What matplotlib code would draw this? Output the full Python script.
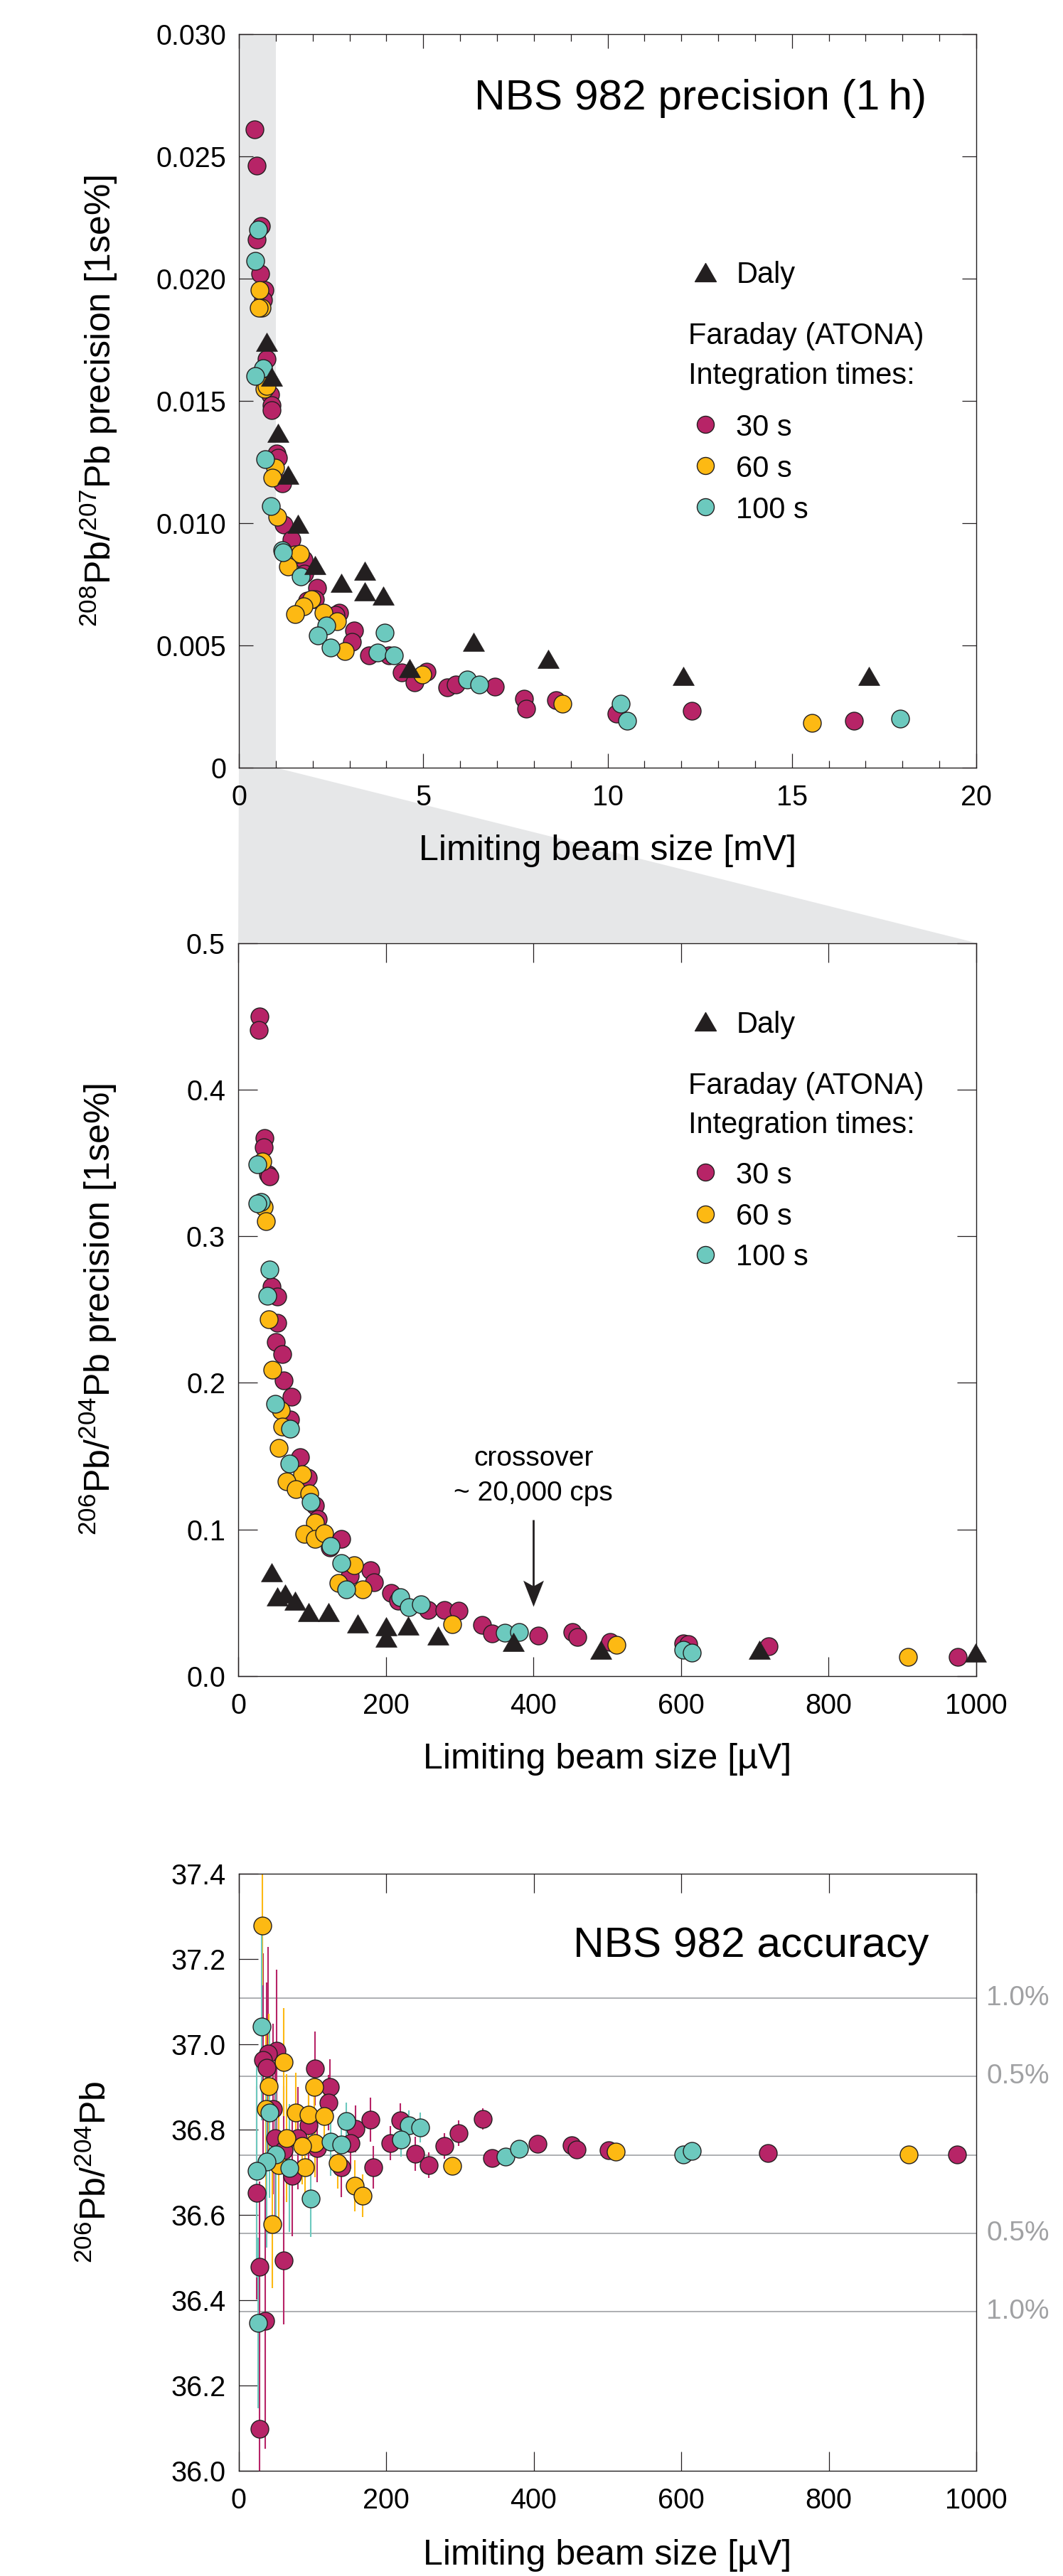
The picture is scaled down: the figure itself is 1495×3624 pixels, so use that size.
import numpy as np
import matplotlib
matplotlib.use('Agg')
import matplotlib.pyplot as plt
from matplotlib.patches import Polygon
from matplotlib.path import Path

plt.rcParams['font.family'] = ['Liberation Sans', 'DejaVu Sans']
plt.rcParams['mathtext.fontset'] = 'custom'
plt.rcParams['mathtext.rm'] = 'Liberation Sans'
plt.rcParams['mathtext.it'] = 'Liberation Sans:italic'
plt.rcParams['mathtext.bf'] = 'Liberation Sans:bold'

# ---------------- colours ----------------
C30 = '#B72467'
C60 = '#FDB913'
C100 = '#6CC9BE'
CDALY = '#231F20'
EDGE = '#231F20'
BAND = '#E6E7E8'

# ---------------- panel 1 : 208Pb/207Pb precision vs beam size [mV] ----------------
p1_30_x = [0.43, 0.476, 0.59, 0.48, 0.58, 0.69, 0.66, 0.752, 0.85, 0.88, 0.89, 1.03, 1.06, 1.17, 1.22,
           1.43, 1.75, 1.78, 2.13, 2.07, 1.85, 2.71, 2.62, 3.12, 3.07, 3.52, 4.06, 4.42, 4.77, 5.10,
           5.66, 5.88, 6.94, 7.73, 7.79, 8.60, 10.25, 12.28, 16.69]
p1_30_y = [0.02611, 0.02461, 0.02214, 0.02161, 0.0202, 0.01953, 0.01914, 0.01672, 0.01526, 0.01483,
           0.01463, 0.01284, 0.01267, 0.01163, 0.00993, 0.00932, 0.00853, 0.00795, 0.00736, 0.0069,
           0.00683, 0.00635, 0.00625, 0.00562, 0.00514, 0.0046, 0.0046, 0.0039, 0.00349, 0.00392,
           0.00329, 0.00341, 0.00331, 0.00281, 0.0024, 0.00276, 0.0022, 0.00233, 0.00191]
p1_60_x = [0.56, 0.62, 0.54, 0.69, 0.75, 0.98, 0.90, 1.04, 1.52, 1.65, 1.33, 1.97, 1.76, 1.52, 2.30,
           2.66, 2.87, 4.98, 8.78, 15.55]
p1_60_y = [0.01954, 0.01882, 0.0188, 0.0155, 0.0156, 0.01226, 0.01187, 0.01025, 0.00872, 0.00874,
           0.00822, 0.0069, 0.00661, 0.00628, 0.00635, 0.00599, 0.00477, 0.00381, 0.00262, 0.00182]
p1_100_x = [0.53, 0.44, 0.656, 0.45, 0.71, 0.86, 1.18, 1.20, 1.67, 2.38, 2.15, 3.95, 2.49, 3.77, 4.21,
            6.20, 6.52, 10.35, 10.53, 17.94]
p1_100_y = [0.02201, 0.02072, 0.01633, 0.01601, 0.01262, 0.01071, 0.0089, 0.0088, 0.00782, 0.00581,
            0.00541, 0.00552, 0.00492, 0.0047, 0.0046, 0.0036, 0.00341, 0.00262, 0.00191, 0.00201]
p1_daly_x = [0.752, 0.89, 1.07, 1.33, 1.61, 2.07, 2.78, 3.42, 3.41, 3.92, 4.62, 6.36, 8.38, 12.05, 17.09]
p1_daly_y = [0.0174, 0.01599, 0.01368, 0.01197, 0.00996, 0.00828, 0.00756, 0.00806, 0.00722, 0.00703,
             0.00407, 0.00514, 0.00444, 0.00375, 0.00375]

# ---------------- panel 2 : 206Pb/204Pb precision vs beam size [uV] ----------------
p2_30_x = [29.1, 28.4, 35.9, 34.4, 40.1, 42, 45, 53, 53, 50.8, 60, 61.7, 72.3, 70.6, 83.5, 94.7, 104.3,
           108.2, 139.7, 124.6, 178.9, 151, 184, 207, 216.8, 256.9, 279.4, 298.6, 330.7, 343.6, 406.3,
           452.8, 459.2, 503.6, 602.9, 610, 718.5, 974.6]
p2_30_y = [0.4497, 0.4404, 0.3668, 0.3605, 0.3422, 0.341, 0.2658, 0.259, 0.2408, 0.2279, 0.2198, 0.2017,
           0.1907, 0.1748, 0.1492, 0.1352, 0.1164, 0.1069, 0.0935, 0.0876, 0.072, 0.0685, 0.0641, 0.0567,
           0.0515, 0.0451, 0.0451, 0.0446, 0.0349, 0.0289, 0.0278, 0.03, 0.0268, 0.0233, 0.0222, 0.022,
           0.0203, 0.0129]
p2_60_x = [33.0, 34.4, 37.6, 41.7, 46.6, 57.8, 59.4, 54.6, 86.7, 65.8, 78, 96.3, 103.8, 89.3, 103.8,
           116.6, 157.3, 135.5, 168.6, 290, 512.3, 907.7]
p2_60_y = [0.3508, 0.32, 0.3102, 0.2434, 0.2087, 0.1812, 0.1699, 0.1554, 0.1376, 0.1328, 0.1274, 0.1245,
           0.1048, 0.097, 0.0935, 0.0975, 0.0754, 0.0636, 0.0591, 0.0354, 0.0214, 0.0129]
p2_100_x = [25.7, 31.1, 26.3, 42.7, 39.5, 50.4, 70.6, 69.7, 98, 125.2, 139.7, 146.1, 220, 231.2, 247.3,
            361.3, 380.5, 602.9, 615]
p2_100_y = [0.349, 0.3233, 0.3223, 0.2773, 0.2595, 0.1856, 0.1689, 0.1447, 0.119, 0.0887, 0.0769, 0.0591,
            0.0539, 0.0471, 0.049, 0.0297, 0.03, 0.0177, 0.0159]
p2_daly_x = [45, 53, 63.6, 77, 95.4, 122, 162, 200.7, 200.7, 230.5, 270.7, 373.1, 491.3, 706, 999]
p2_daly_y = [0.0709, 0.0544, 0.0564, 0.0512, 0.0434, 0.0438, 0.0359, 0.0338, 0.0262, 0.0343, 0.0278,
             0.0233, 0.0177, 0.0177, 0.0159]
crossover_x = 400
crossover_arrow = (0.1067, 0.0475)   # arrow start / tip (precision units)

# ---------------- panel 3 : 206Pb/204Pb accuracy ----------------
p3_30_x = [51.4, 40.2, 33.7, 37.9, 103.4, 124.3, 122.4, 46.5, 94.7, 158.3, 179.2, 219, 331.4, 298, 279.4,
           205.5, 239.2, 257.5, 183, 343.6, 405.6, 151.7, 106.9, 49.8, 80.3, 61, 72.3, 139.7, 25, 28.2,
           61, 35.9, 28.9, 451.5, 458, 502, 718, 974]
p3_30_y = [36.985, 36.977, 36.963, 36.945, 36.943, 36.9, 36.863, 36.848, 36.81, 36.8005, 36.823, 36.821,
           36.824, 36.792, 36.762, 36.768, 36.743, 36.7155, 36.7117, 36.733, 36.767, 36.768, 36.757,
           36.7795, 36.78, 36.7517, 36.6905, 36.7117, 36.6517, 36.478, 36.4933, 36.3517, 36.099,
           36.7635, 36.753, 36.752, 36.7442, 36.742]
p3_30_e = [0.19, 0.25, 0.25, 0.2, 0.087, 0.065, 0.065, 0.2, 0.08, 0.055, 0.052, 0.04, 0.025, 0.03, 0.03,
           0.04, 0.04, 0.03, 0.05, 0.012, 0.012, 0.06, 0.08, 0.2, 0.12, 0.15, 0.14, 0.07, 0.25, 0.2, 0.15,
           0.3, 0.35, 0.01, 0.01, 0.01, 0.008, 0.006]
p3_60_x = [32.1, 61, 41.1, 103.1, 36.9, 78, 95.4, 115.9, 103.4, 86, 64.8, 54.6, 90.6, 134.9, 157.3, 168.6,
           46, 290, 511.3, 908]
p3_60_y = [37.277, 36.958, 36.901, 36.9, 36.848, 36.84, 36.834, 36.831, 36.768, 36.762, 36.7795, 36.7155,
           36.7117, 36.7212, 36.6683, 36.645, 36.578, 36.7145, 36.748, 36.742]
p3_60_e = [0.14, 0.126, 0.17, 0.06, 0.2, 0.093, 0.08, 0.07, 0.08, 0.09, 0.15, 0.15, 0.08, 0.06, 0.06, 0.05,
           0.15, 0.02, 0.01, 0.006]
p3_100_x = [31.1, 42.4, 146.1, 231.2, 246.3, 220.6, 362.2, 380.5, 125.2, 139.7, 50.4, 38.5, 24.8, 69.1,
            98, 26.3, 603, 614]
p3_100_y = [37.0405, 36.839, 36.8195, 36.81, 36.8045, 36.777, 36.736, 36.7545, 36.771, 36.7645, 36.7405,
            36.7238, 36.7033, 36.71, 36.638, 36.346, 36.7407, 36.75]
p3_100_e = [0.22, 0.2, 0.044, 0.035, 0.035, 0.04, 0.012, 0.012, 0.08, 0.06, 0.15, 0.2, 0.25, 0.15, 0.09,
            0.2, 0.008, 0.008]
p3_ref = 36.74
p3_dev = [-0.01, -0.005, 0.0, 0.005, 0.01]
p3_dev_labels = ['1.0%', '0.5%', '', '0.5%', '1.0%']

legend_labels = ['30 s', '60 s', '100 s']

# ---------------- figure ----------------
W, H = 1495, 3624
fig = plt.figure(figsize=(W / 100, H / 100), dpi=100)

def px_axes(l, r, t, b):
    return fig.add_axes([l / W, (H - b) / H, (r - l) / W, (b - t) / H])

ax1 = px_axes(336, 1373, 48, 1080)
ax2 = px_axes(335, 1373, 1326.5, 2358)
ax3 = px_axes(335.5, 1373, 2635.5, 3476)

TICK_FS = 28.5
LBL_FS = 36
LEG_FS = 30
TITLE_FS = 43.5

tri = Path([(-1, -0.866), (1, -0.866), (0, 0.866), (-1, -0.866)],
           [Path.MOVETO, Path.LINETO, Path.LINETO, Path.CLOSEPOLY])
# notched ("stealth") arrow head, tip at the origin, pointing down
head = Path([(0, 0), (-14.5, 37), (0, 29), (14.5, 37), (0, 0)],
            [Path.MOVETO, Path.LINETO, Path.LINETO, Path.LINETO, Path.CLOSEPOLY])
MS = 18
TMS = 21.5


def style(ax, length, right=True, minor_len=None):
    for s in ax.spines.values():
        s.set_linewidth(1.0)
        s.set_color(EDGE)
    ax.tick_params(which='major', direction='in', length=length, width=0.9, color=EDGE,
                   top=True, right=right, labelsize=TICK_FS)
    ax.tick_params(axis='y', which='major', pad=13)
    ax.tick_params(axis='x', which='major', pad=16.5)
    if minor_len is not None:
        ax.tick_params(which='minor', direction='in', length=minor_len, width=0.9, color=EDGE,
                       top=True, right=right, left=False)
    else:
        ax.minorticks_off()


def circles(ax, x, y, c, z):
    ax.plot(x, y, linestyle='none', marker='o', markersize=MS, markerfacecolor=c,
            markeredgecolor=EDGE, markeredgewidth=1.0, clip_on=False, zorder=z)


def triangles(ax, x, y, z=6):
    ax.plot(x, y, linestyle='none', marker=tri, markersize=TMS, markerfacecolor=CDALY,
            markeredgecolor=CDALY, markeredgewidth=0.5, clip_on=False, zorder=z)


def legend(ax, fx_marker, fx_text, fx_head, fy_daly, fy_far, fy_int, fy_c):
    ax.plot([fx_marker], [fy_daly], transform=ax.transAxes, linestyle='none', marker=tri,
            markersize=TMS, markerfacecolor=CDALY, markeredgecolor=CDALY, clip_on=False)
    ax.text(fx_text, fy_daly, 'Daly', transform=ax.transAxes, fontsize=LEG_FS,
            ha='left', va='center_baseline')
    ax.text(fx_head, fy_far, 'Faraday (ATONA)', transform=ax.transAxes, fontsize=LEG_FS,
            ha='left', va='baseline')
    ax.text(fx_head, fy_int, 'Integration times:', transform=ax.transAxes, fontsize=LEG_FS,
            ha='left', va='baseline')
    for fy, c, lab in zip(fy_c, [C30, C60, C100], legend_labels):
        ax.plot([fx_marker], [fy], transform=ax.transAxes, linestyle='none', marker='o',
                markersize=MS * 0.96, markerfacecolor=c, markeredgecolor=EDGE,
                markeredgewidth=1.0, clip_on=False)
        ax.text(fx_text, fy, lab, transform=ax.transAxes, fontsize=LEG_FS,
                ha='left', va='center_baseline')


# ---------- panel 1 ----------
ax1.set_xlim(0, 20)
ax1.set_ylim(0, 0.030)
ax1.axvspan(0, 1, color=BAND, zorder=0, lw=0)
circles(ax1, p1_30_x, p1_30_y, C30, 3)
circles(ax1, p1_60_x, p1_60_y, C60, 4)
circles(ax1, p1_100_x, p1_100_y, C100, 5)
triangles(ax1, p1_daly_x, p1_daly_y)
ax1.set_xticks([0, 5, 10, 15, 20])
ax1.set_xticklabels(['0', '5', '10', '15', '20'])
ax1.set_xticks(np.arange(0, 21, 1), minor=True)
ax1.set_yticks([0, 0.005, 0.010, 0.015, 0.020, 0.025, 0.030])
ax1.set_yticklabels(['0', '0.005', '0.010', '0.015', '0.020', '0.025', '0.030'])
style(ax1, 14.4, minor_len=7.2)
ax1.tick_params(axis='y', which='minor', left=False, right=False)
ax1.text(0.9325, 0.8971, 'NBS 982 precision (1\u2009h)', transform=ax1.transAxes,
         fontsize=TITLE_FS, ha='right', va='baseline')
legend(ax1, 0.633, 0.6742, 0.6093, 0.6756, 0.5775, 0.5235, [0.468, 0.4118, 0.3556])
ax1.text(0.5, -0.126, 'Limiting beam size [mV]', transform=ax1.transAxes,
         fontsize=LBL_FS, ha='center', va='baseline')
ax1.text(-0.19, 0.5, r'$\mathregular{^{208}}$Pb/$\mathregular{^{207}}$Pb precision [1se%]',
         transform=ax1.transAxes, fontsize=LBL_FS, rotation=90, ha='center', va='center')

# ---------- panel 2 ----------
ax2.set_xlim(0, 1000)
ax2.set_ylim(0, 0.5)
circles(ax2, p2_30_x, p2_30_y, C30, 3)
circles(ax2, p2_60_x, p2_60_y, C60, 4)
circles(ax2, p2_100_x, p2_100_y, C100, 5)
triangles(ax2, p2_daly_x, p2_daly_y)
ax2.set_xticks([0, 200, 400, 600, 800, 1000])
ax2.set_yticks([0, 0.1, 0.2, 0.3, 0.4, 0.5])
ax2.set_yticklabels(['0.0', '0.1', '0.2', '0.3', '0.4', '0.5'])
style(ax2, 19.5)
legend(ax2, 0.6333, 0.6746, 0.6096, 0.8924, 0.794, 0.7407, [0.6869, 0.6305, 0.5749])
ax2.text(crossover_x, 0.1436, 'crossover', fontsize=28, ha='center', va='baseline')
ax2.text(crossover_x, 0.1197, '~ 20,000 cps', fontsize=28, ha='center', va='baseline')
ax2.plot([crossover_x, crossover_x], [crossover_arrow[0], crossover_arrow[1] + 0.012],
         color=CDALY, lw=2.0, solid_capstyle='butt', zorder=7)
ax2.plot([crossover_x], [crossover_arrow[1]], linestyle='none', marker=head, markersize=53,
         markerfacecolor=CDALY, markeredgecolor=CDALY, markeredgewidth=0, zorder=7)
ax2.text(0.5, -0.126, 'Limiting beam size [\u00b5V]', transform=ax2.transAxes,
         fontsize=LBL_FS, ha='center', va='baseline')
ax2.text(-0.19, 0.5, r'$\mathregular{^{206}}$Pb/$\mathregular{^{204}}$Pb precision [1se%]',
         transform=ax2.transAxes, fontsize=LBL_FS, rotation=90, ha='center', va='center')

# ---------- panel 3 ----------
ax3.set_xlim(0, 1000)
ax3.set_ylim(36.0, 37.4)
for d, lab in zip(p3_dev, p3_dev_labels):
    yv = p3_ref * (1 + d)
    ax3.axhline(yv, color='#A7A9AC', lw=1.3, zorder=1)
    if lab:
        ax3.text(1.0135, yv, lab, transform=ax3.get_yaxis_transform(), fontsize=28,
                 color='#A0A1A3', ha='left', va='center')
for xs, ys, es, c in [(p3_30_x, p3_30_y, p3_30_e, C30),
                      (p3_60_x, p3_60_y, p3_60_e, C60),
                      (p3_100_x, p3_100_y, p3_100_e, C100)]:
    ax3.vlines(xs, np.array(ys) - np.array(es), np.array(ys) + np.array(es), colors=c,
               lw=1.5, zorder=2)
for xs, ys, c, z in [(p3_30_x, p3_30_y, C30, 3), (p3_60_x, p3_60_y, C60, 4),
                     (p3_100_x, p3_100_y, C100, 5)]:
    circles(ax3, xs, ys, c, z)
ax3.set_xticks([0, 200, 400, 600, 800, 1000])
ax3.set_yticks(np.round(np.arange(36.0, 37.41, 0.2), 1))
ax3.set_yticklabels(['%.1f' % v for v in np.arange(36.0, 37.41, 0.2)])
style(ax3, 19.5, right=False)
ax3.text(0.9354, 0.8598, 'NBS 982 accuracy', transform=ax3.transAxes,
         fontsize=TITLE_FS, ha='right', va='baseline')
ax3.text(0.5, -0.157, 'Limiting beam size [\u00b5V]', transform=ax3.transAxes,
         fontsize=LBL_FS, ha='center', va='baseline')
ax3.text(-0.1935, 0.5, r'$\mathregular{^{206}}$Pb/$\mathregular{^{204}}$Pb',
         transform=ax3.transAxes, fontsize=LBL_FS, rotation=90, ha='center', va='center')

# ---------- zoom connector ----------
inv = fig.transFigure.inverted()
pa = inv.transform(ax1.transData.transform([(0, 0), (1, 0)]))
pb = inv.transform(ax2.transData.transform([(1000, 0.5), (0, 0.5)]))
poly = Polygon(np.vstack([pa, pb]), closed=True, transform=fig.transFigure,
               facecolor=BAND, edgecolor='none', zorder=-1)
fig.add_artist(poly)

fig.savefig('out.png', dpi=100)
